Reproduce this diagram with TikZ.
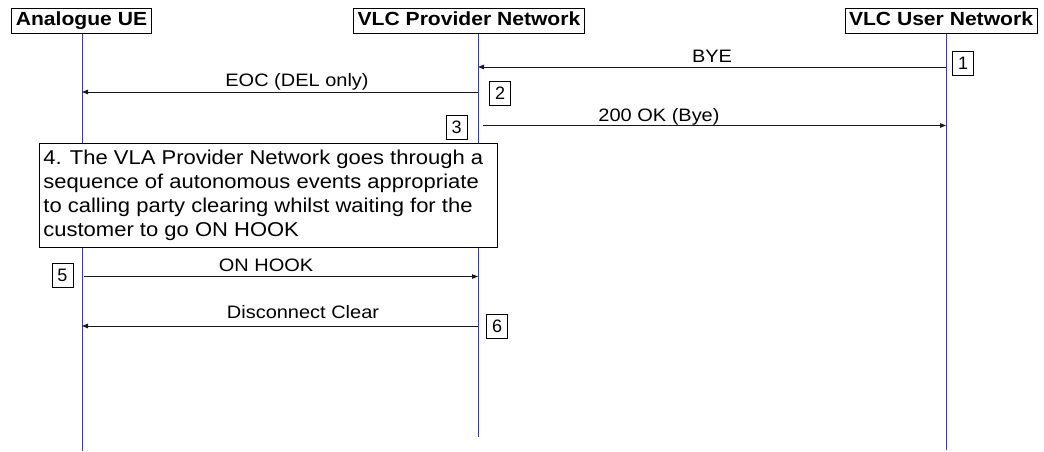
\documentclass[tikz,border=0pt]{standalone}
\usepackage{fontspec}
\setmainfont{Liberation Sans}
\usepackage{graphicx}
\usetikzlibrary{arrows.meta}

\begin{document}
\begin{tikzpicture}[x=1pt, y=-1pt]
  % Colors
  \definecolor{lifecol}{RGB}{50,50,255}
  \definecolor{msgcol}{RGB}{25,25,25}
  %
  \def\hs{1.11}
  \def\xa{82}
  \def\xp{478}
  \def\xu{946}
  %
  \tikzset{
    head/.style={draw, line width=0.8pt, inner xsep=4pt, inner ysep=0pt, minimum height=25pt,
                 text height=14pt, text depth=4pt, anchor=north,
                 font=\fontsize{19}{22}\selectfont\bfseries},
    lifeline/.style={draw=lifecol, line width=1pt},
    msg/.style={draw=msgcol, line width=1pt, -{Triangle[length=6pt,width=4.5pt]}},
    msglbl/.style={anchor=base, inner sep=0pt, font=\fontsize{18}{21}\selectfont},
    numbox/.style={draw, line width=0.8pt, minimum width=21pt, minimum height=24pt,
                   inner sep=0pt, font=\fontsize{18}{21}\selectfont},
    note/.style={draw, fill=white, line width=0.8pt, anchor=north west, inner xsep=4pt,
                 inner ysep=3pt, minimum height=104pt, font=\fontsize{20}{24}\selectfont},
  }
  %
  \useasboundingbox (0,0) rectangle (1044,451);
  %
  %%% HEADERS %%%
  \node[head] (aue) at (81.5, 8) {\scalebox{\hs}[1]{Analogue UE}};
  \node[head] (pvn) at (469, 8) {\scalebox{\hs}[1]{VLC Provider Network}};
  \node[head] (usn) at (941, 8) {\scalebox{\hs}[1]{VLC User Network}};
  %
  % Lifelines
  \foreach \nm/\x/\yb in {aue/\xa/451, pvn/\xp/437, usn/\xu/450} {
    \coordinate (\nm-end) at (\x, \yb);
    \draw[lifeline] (\nm-end |- \nm.south) -- (\nm-end);
  }
  %
  %%% MESSAGES %%%
  \foreach \src/\dst/\y/\lx/\ly/\sh/\txt [count=\i] in {
    usn/pvn/67/712/62/0/{BYE},
    pvn/aue/92/297/86/0/{EOC (DEL only)},
    pvn/usn/125.5/659/121.5/5/{200 OK (Bye)},
    aue/pvn/276.5/266/271.5/2/{ON HOOK},
    pvn/aue/326/303/318/0/{Disconnect Clear}%
  } {
    \draw[msg, shorten <=\sh pt] (\src-end |- 0,\y) -- (\dst-end |- 0,\y);
    \node[msglbl] (lbl\i) at (\lx, \ly) {\scalebox{\hs}[1]{\txt}};
  }
  %
  % Step numbers
  \foreach \n/\x/\y in {1/963/63.5, 2/500/93, 3/456.5/127.5, 5/62.5/275.5, 6/497/326} {
    \node[numbox] (step\n) at (\x, \y) {\n};
  }
  %
  % Step 4 note
  \node[note] (step4) at (39, 143) {\makebox[450pt][l]{\scalebox{1.1}[1]{%
    \begin{tabular}{@{}l@{}}
      4. The VLA Provider Network goes through a\\
      sequence of autonomous events appropriate\\
      to calling party clearing whilst waiting for the\\
      customer to go ON HOOK
    \end{tabular}}}};
\end{tikzpicture}
\end{document}
